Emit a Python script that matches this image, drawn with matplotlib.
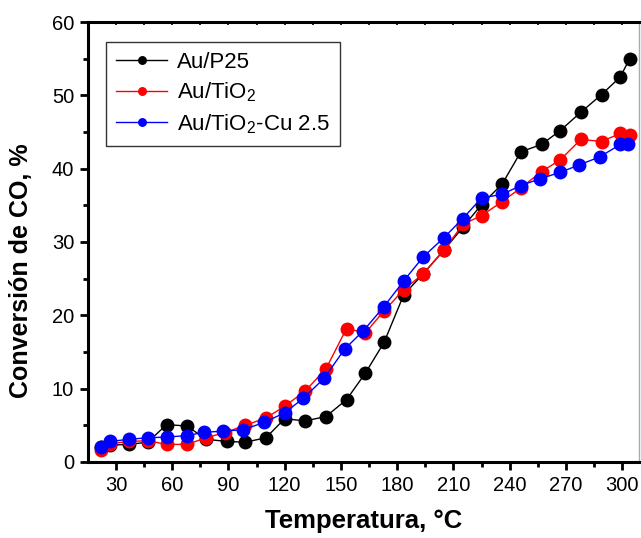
import numpy as np
import matplotlib
matplotlib.use('Agg')
import matplotlib.pyplot as plt
from matplotlib.ticker import MultipleLocator

plt.rcParams['font.family'] = ['Liberation Sans', 'DejaVu Sans']
plt.rcParams['mathtext.fontset'] = 'custom'
plt.rcParams['mathtext.rm'] = 'Liberation Sans'

# Datos
t_p25 = [22, 27, 37, 47, 57, 68, 78, 89, 99, 110, 120, 131, 142, 153, 163, 173, 183.5,
         194, 205, 215, 225, 236, 246, 257, 267, 278, 289, 299, 304]
conv_p25 = [2.0, 2.3, 2.4, 2.7, 5.1, 4.9, 3.1, 2.8, 2.7, 3.3, 5.9, 5.6, 6.2, 8.5, 12.1,
            16.3, 22.8, 25.7, 28.9, 32.0, 35.1, 37.9, 42.3, 43.3, 45.2, 47.7, 50.1, 52.5, 55.0]

t_tio2 = [22, 27, 37, 47, 57, 68, 78, 88, 99, 110, 120, 131, 142, 153, 163, 173, 183.5,
          194, 205, 215, 225, 236, 246, 257, 267, 278, 289, 299, 304]
conv_tio2 = [1.7, 2.5, 2.8, 2.9, 2.4, 2.4, 3.3, 4.0, 5.0, 6.0, 7.6, 9.7, 12.7, 18.2, 17.6,
             20.6, 23.5, 25.7, 28.9, 32.4, 33.6, 35.5, 37.4, 39.6, 41.2, 44.0, 43.7, 44.8, 44.6]

t_cu = [22, 27, 37, 47, 57, 68, 77, 87, 98, 109, 120, 130, 141, 152, 162, 173, 183.5,
        194, 205, 215, 225, 236, 246, 256, 267, 277, 288, 299, 303]
conv_cu = [2.1, 2.8, 3.1, 3.3, 3.4, 3.6, 4.05, 4.2, 4.4, 5.4, 6.7, 8.7, 11.4, 15.4, 17.9,
           21.2, 24.7, 28.0, 30.6, 33.2, 36.0, 36.5, 37.7, 38.6, 39.5, 40.5, 41.6, 43.3, 43.3]

fig = plt.figure(figsize=(6.41, 5.38), dpi=100)
ax = fig.add_axes([0.1373, 0.1413, 0.8596, 0.8178])

ax.plot(t_p25, conv_p25, '-o', color='black', lw=1, ms=9, label='Au/P25')
ax.plot(t_tio2, conv_tio2, '-o', color='red', lw=1, ms=9, label='Au/TiO$_\\mathregular{2}$')
ax.plot(t_cu, conv_cu, '-o', color='blue', lw=1, ms=9, label='Au/TiO$_\\mathregular{2}$-Cu 2.5')

ax.set_xlim(15.1, 309)
ax.set_ylim(0, 60)
ax.xaxis.set_major_locator(MultipleLocator(30))
ax.xaxis.set_minor_locator(MultipleLocator(15))
ax.yaxis.set_major_locator(MultipleLocator(10))
ax.yaxis.set_minor_locator(MultipleLocator(5))

for s in ['left', 'bottom', 'top']:
    ax.spines[s].set_linewidth(2.2)
ax.spines['right'].set_linewidth(1)
ax.spines['right'].set_color('#aaaaaa')

ax.tick_params(axis='both', which='major', direction='out', length=6, width=2,
               labelsize=14.5, pad=4)
ax.tick_params(axis='both', which='minor', direction='out', length=3.5, width=2)

# ticks interiores arriba
top = ax.secondary_xaxis('top')
top.xaxis.set_major_locator(MultipleLocator(30))
top.xaxis.set_minor_locator(MultipleLocator(15))
top.tick_params(which='both', direction='in', length=2.5, width=1.2, labeltop=False)
top.spines['top'].set_visible(False)

ax.set_xlabel('Temperatura, °C', fontsize=18.5, fontweight='bold', labelpad=10)
ax.set_ylabel('Conversión de CO, %', fontsize=18, fontweight='bold')
ax.yaxis.set_label_coords(-0.1, 0.435)

leg = ax.legend(loc='upper left', bbox_to_anchor=(0.033, 0.955), borderaxespad=0,
                fontsize=16, frameon=True, fancybox=False, edgecolor='black',
                borderpad=0.45, handlelength=2.3, handletextpad=0.45,
                labelspacing=0.35, markerscale=0.6)
leg.get_frame().set_linewidth(1)

fig.savefig('out.png', dpi=100)
